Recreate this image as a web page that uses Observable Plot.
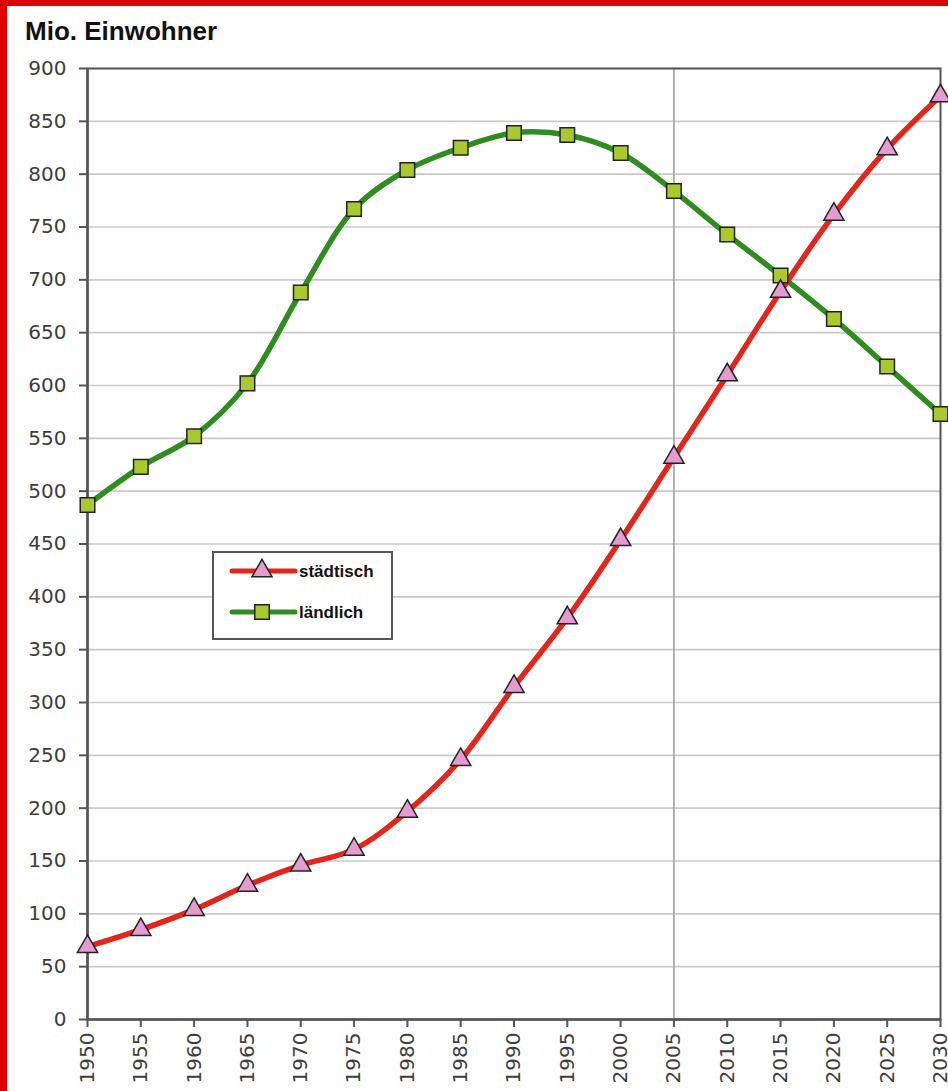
<!DOCTYPE html>
<html>
<head>
<meta charset="utf-8">
<script src="https://cdn.jsdelivr.net/npm/d3@7"></script>
<script src="https://cdn.jsdelivr.net/npm/@observablehq/plot@0.6"></script>
<style>
  html, body { margin: 0; padding: 0; background: #fff; }
  #page { position: relative; width: 948px; height: 1091px; overflow: hidden; background: #fff; }
  #redTop { position: absolute; left: 0; top: 0; width: 948px; height: 6px; background: #dd0000; }
  #redLeft { position: absolute; left: 0; top: 0; width: 7px; height: 1091px; background: #dd0000; }
  #title { position: absolute; left: 25px; top: 18px; font: bold 26px/26px "Liberation Sans", Arial, sans-serif; color: #111; }
  #chart { position: absolute; left: 7px; top: 48px; }
  #legend { position: absolute; left: 212px; top: 551px; width: 177px; height: 85px; border: 2px solid #555; background: #fff; }
</style>
</head>
<body>
<div id="page">
  <div id="redTop"></div>
  <div id="redLeft"></div>
  <div id="title">Mio. Einwohner</div>
  <div id="chart"></div>
  <div id="legend"></div>
</div>
<script>
const years = [1950,1955,1960,1965,1970,1975,1980,1985,1990,1995,2000,2005,2010,2015,2020,2025,2030];
const urban = [69,85,104,127,146,161,197,246,315,380,454,532,610,689,762,824,874];
const rural = [487,523,552,602,688,767,804,825,839,837,820,784,743,704,663,618,573];
const yTicks = d3.range(0, 901, 50);
const xTicks = d3.range(1950, 2031, 5);
const seriesNames = ["städtisch", "ländlich"];
const lineColors = ["#e3261c", "#2f8c1f"];
const markerFills = ["#e59ad0", "#a9c92e"];
const markerSymbols = ["triangle", "square"];
const markerSizes = [7.5, 8.2];
const highlightYear = [2005];

const urbanData = years.map((y, i) => ({year: y, value: urban[i]}));
const ruralData = years.map((y, i) => ({year: y, value: rural[i]}));

const plot = Plot.plot({
  width: 941,
  height: 1043,
  marginLeft: 80,
  marginRight: 8,
  marginTop: 20,
  marginBottom: 72,
  style: {fontFamily: "'DejaVu Sans', sans-serif", background: "transparent", overflow: "visible"},
  x: {domain: [1950, 2030]},
  y: {domain: [0, 900]},
  marks: [
    Plot.gridY(yTicks, {stroke: "#c9c9c9", strokeOpacity: 1, strokeWidth: 1.6}),
    Plot.ruleX(highlightYear, {stroke: "#a0a0a0", strokeWidth: 1.6}),
    Plot.frame({stroke: "#555", strokeWidth: 2}),
    Plot.axisY({ticks: yTicks, tickSize: 8, tickPadding: 13, fontSize: 20, fill: "#3d3d3d", stroke: "#555", strokeWidth: 2, label: null}),
    Plot.axisX({ticks: xTicks, tickSize: 8, tickPadding: 5, tickRotate: -90, tickFormat: d => String(d), fontSize: 20, fill: "#3d3d3d", stroke: "#555", strokeWidth: 2, label: null}),
    Plot.ruleX([1950], {stroke: "#555", strokeWidth: 2.5}),
    Plot.ruleY([0], {stroke: "#555", strokeWidth: 2.5}),
    Plot.line(ruralData, {x: "year", y: "value", stroke: lineColors[1], strokeWidth: 5.5, curve: "catmull-rom"}),
    Plot.line(urbanData, {x: "year", y: "value", stroke: lineColors[0], strokeWidth: 5.5, curve: "catmull-rom"}),
    Plot.dot(ruralData, {x: "year", y: "value", symbol: markerSymbols[1], r: markerSizes[1], fill: markerFills[1], stroke: "#222", strokeWidth: 1.5}),
    Plot.dot(urbanData, {x: "year", y: "value", symbol: markerSymbols[0], r: markerSizes[0], fill: markerFills[0], stroke: "#222", strokeWidth: 1.5})
  ]
});
document.getElementById("chart").appendChild(plot);

// Legend
const leg = d3.select("#legend").append("svg").attr("width", 177).attr("height", 85);
const symGen = [d3.symbolTriangle, d3.symbolSquare];
seriesNames.forEach((name, i) => {
  const cy = 18 + i * 41;
  const g = leg.append("g");
  g.append("line").attr("x1", 18).attr("x2", 81).attr("y1", cy).attr("y2", cy)
    .attr("stroke", lineColors[i]).attr("stroke-width", 5).attr("stroke-linecap", "round");
  g.append("path").attr("d", d3.symbol(symGen[i], Math.PI * markerSizes[i] * markerSizes[i])())
    .attr("transform", `translate(48,${cy})`).attr("fill", markerFills[i]).attr("stroke", "#222").attr("stroke-width", 1.5);
  g.append("text").attr("x", 85).attr("y", cy + 6).text(name)
    .attr("font-family", "'Liberation Sans', Arial, sans-serif").attr("font-weight", "bold").attr("font-size", 17).attr("fill", "#111");
});
</script>
</body>
</html>
